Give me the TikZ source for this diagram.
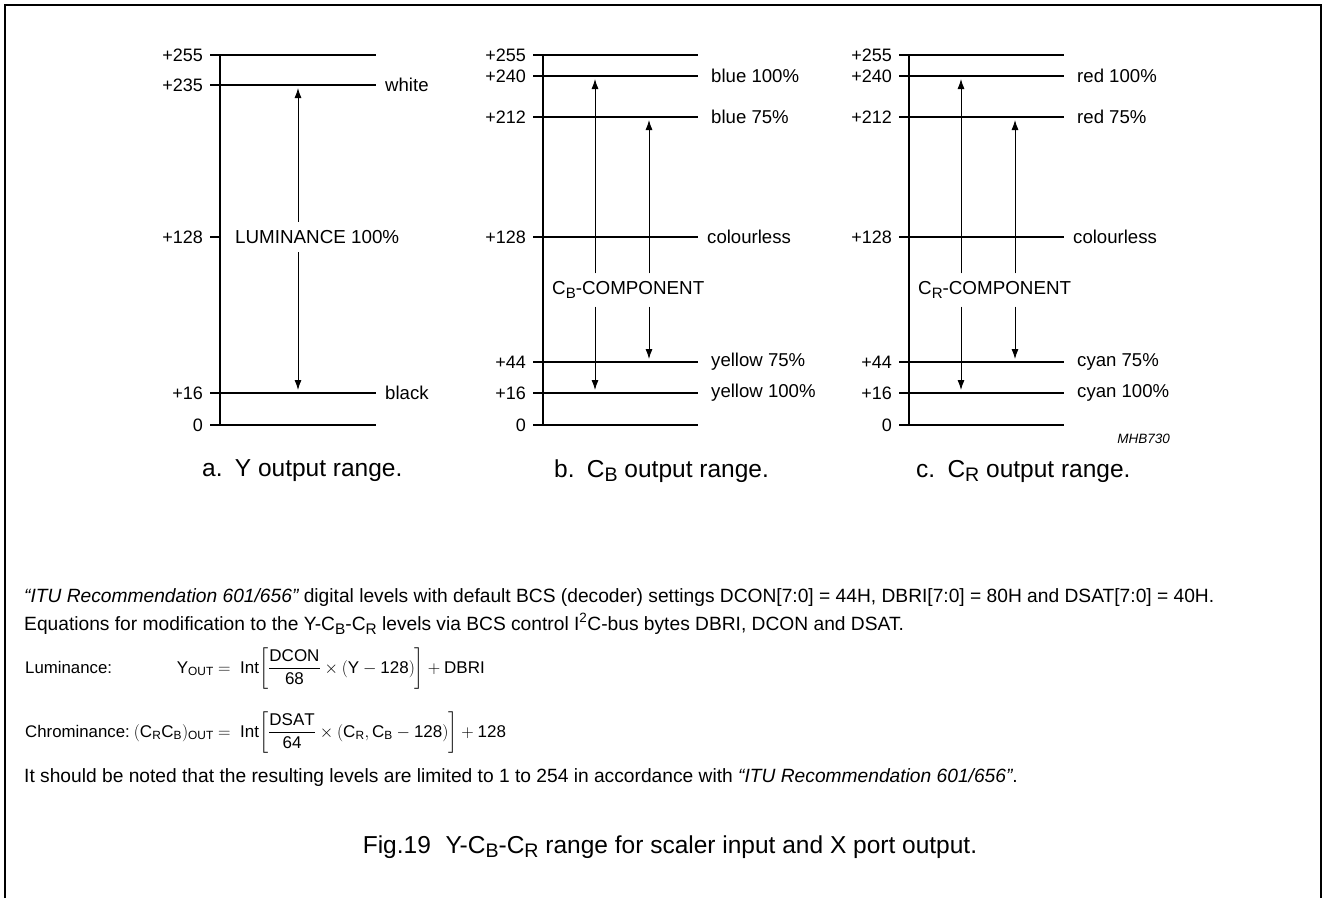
\documentclass[tikz,border=0pt]{standalone}
\usepackage{amsmath}
\usepackage{fontspec}
\setmainfont{Liberation Sans}
\setmathrm{Liberation Sans}
\usetikzlibrary{arrows.meta, positioning}

\newcommand{\lowsub}[1]{\raisebox{-0.35ex}{\scalebox{0.8}{#1}}}

\tikzset{
    lvl/.style={line width=1.1pt},
    arr/.style={line width=0.9pt, -{Latex[length=10pt,width=7pt]}},
    val/.style={anchor=east, inner sep=0pt, font=\fontsize{18}{21}\selectfont},
    tag/.style={anchor=west, inner sep=0pt, font=\fontsize{18.6}{21}\selectfont},
    comp/.style={anchor=west, inner sep=0pt, font=\fontsize{18.8}{21}\selectfont},
    captxt/.style={anchor=west, inner sep=0pt, font=\fontsize{24.5}{28}\selectfont},
    txt/.style={anchor=west, inner sep=0pt, font=\fontsize{19.2}{22}\selectfont},
    eqlbl/.style={anchor=base west, inner sep=0pt, font=\fontsize{16.8}{20}\selectfont},
    eqtxt/.style={inner sep=0pt, font=\fontsize{17}{20}\selectfont},
}

\begin{document}
\begin{tikzpicture}[x=1pt, y=-1pt]
    \useasboundingbox (0,0) rectangle (1327,898);

    % FRAME (open at the bottom)
    \draw[line width=2pt] (5,898) -- (5,5) -- (1321,5) -- (1321,898);

    % (a) Y OUTPUT RANGE
    \draw[lvl] (220,55) -- (220,425);
    \foreach \y in {55,85,393,425}{
        \draw[lvl] (210,\y) -- (376,\y);
    }
    \draw[lvl] (210,237) -- (220,237);
    \foreach \y/\v [count=\i] in {55/+255, 85/+235, 237/+128, 393/+16, 425/0}{
        \node[val] (ya\i) at (203,\y) {\v};
    }
    \node[tag] (ywhite) at (385,85) {white};
    \node[tag] (yblack) at (385,393) {black};

    \coordinate (ytop) at (298,88);
    \coordinate (ybot) at (298,390);
    \node[comp, minimum height=30pt] (ylum) at (235,237) {LUMINANCE 100\%};
    \draw[arr] (ylum.north -| ytop) -- (ytop);
    \draw[arr] (ylum.south -| ybot) -- (ybot);

    % (b) CB AND (c) CR OUTPUT RANGES
    \foreach \px/\n/\s/\hi/\lo in {543/b/B/blue/yellow, 909/c/R/red/cyan}{
        \draw[lvl] (\px,55) -- (\px,425);
        \foreach \y in {55,76,117,237,362,393,425}{
            \draw[lvl] (\px-10,\y) -- (\px+155,\y);
        }
        \foreach \y/\v [count=\i] in {55/+255, 76/+240, 117/+212, 237/+128, 362/+44, 393/+16, 425/0}{
            \node[val] (\n v\i) at (\px-17,\y) {\v};
        }
        \node[tag] (\n hi100) at (\px+168,76) {\hi\ 100\%};
        \node[tag] (\n hi75) at (\px+168,117) {\hi\ 75\%};
        \node[tag] (\n zero) at (\px+164,237) {colourless};
        \node[tag] (\n lo75) at (\px+168,362) {\lo\ 75\%};
        \node[tag] (\n lo100) at (\px+168,393) {\lo\ 100\%};

        \coordinate (\n topA) at (\px+52,79);
        \coordinate (\n botA) at (\px+52,390);
        \coordinate (\n topB) at (\px+106,120);
        \coordinate (\n botB) at (\px+106,359);
        \node[comp, minimum height=33pt] (\n comp) at (\px+9,290) {C\lowsub{\s}-COMPONENT};
        \draw[arr] (\n comp.north -| \n topA) -- (\n topA);
        \draw[arr] (\n comp.south -| \n botA) -- (\n botA);
        \draw[arr] (\n comp.north -| \n topB) -- (\n topB);
        \draw[arr] (\n comp.south -| \n botB) -- (\n botB);
    }
    \node[anchor=east, inner sep=0pt, font=\itshape\fontsize{13.5}{16}\selectfont] (mhb) at (1170,439) {MHB730};

    % CAPTIONS
    \node[captxt] (capa) at (202,471) {a.\hspace{0.5em}Y output range.};
    \node[captxt] (capb) at (554,471) {b.\hspace{0.5em}C\lowsub{B} output range.};
    \node[captxt] (capc) at (916,471) {c.\hspace{0.5em}C\lowsub{R} output range.};

    % NOTES AND EQUATIONS
    \node[txt] (note1) at (24,598) {{\itshape “ITU Recommendation 601/656”} digital levels with default BCS (decoder) settings DCON[7:0] = 44H, DBRI[7:0] = 80H and DSAT[7:0] = 40H.};
    \node[txt] (note2) at (24,624) {Equations for modification to the Y-C\lowsub{B}-C\lowsub{R} levels via BCS control I\textsuperscript{2}C-bus bytes DBRI, DCON and DSAT.};

    \node[eqlbl] (lumlbl) at (25,673) {Luminance:};
    \node[eqtxt, anchor=base east] (lumlhs) at (214,673) {$\mathrm{Y}_{\mathrm{OUT}}$};
    \node[eqtxt, anchor=base west] (lumrhs) at (218,673) {$=\;\mathrm{Int}\biggl[\dfrac{\mathrm{DCON}}{\mathrm{68}}\times(\mathrm{Y}-\mathrm{128})\biggr]+\mathrm{DBRI}$};

    \node[eqlbl] (chrlbl) at (25,737) {Chrominance:};
    \node[eqtxt, anchor=base east] (chrlhs) at (214,737) {$(\mathrm{C}_{\mathrm{R}}\mathrm{C}_{\mathrm{B}})_{\mathrm{OUT}}$};
    \node[eqtxt, anchor=base west] (chrrhs) at (218,737) {$=\;\mathrm{Int}\biggl[\dfrac{\mathrm{DSAT}}{\mathrm{64}}\times(\mathrm{C}_{\mathrm{R}},\mathrm{C}_{\mathrm{B}}-\mathrm{128})\biggr]+\mathrm{128}$};

    \node[txt] (note3) at (24,778) {It should be noted that the resulting levels are limited to 1 to 254 in accordance with {\itshape “ITU Recommendation 601/656”}.};

    \node[inner sep=0pt, font=\fontsize{24.5}{28}\selectfont] (fig) at (670,847) {Fig.19\hspace{0.6em}Y-C\lowsub{B}-C\lowsub{R} range for scaler input and X port output.};
\end{tikzpicture}
\end{document}
